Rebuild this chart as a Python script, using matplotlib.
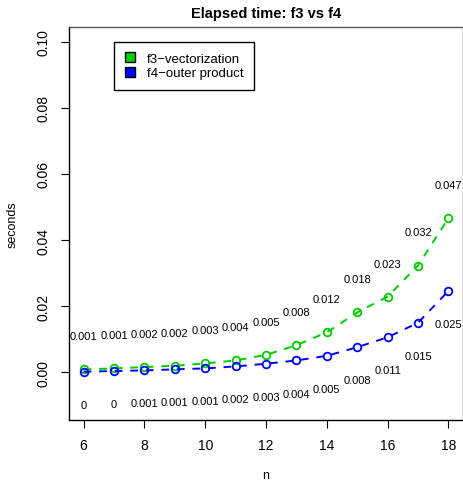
import matplotlib
matplotlib.use("Agg")
import matplotlib.pyplot as plt
from matplotlib.patches import Patch

plt.rcParams['font.family'] = ['Liberation Sans', 'DejaVu Sans']

n = list(range(6, 19))
f3 = [0.0009, 0.0012, 0.0016, 0.0020, 0.0027, 0.0036, 0.0053, 0.0082,
      0.0121, 0.0181, 0.0229, 0.0323, 0.0466]
f4 = [0.0002, 0.0004, 0.0006, 0.0009, 0.0012, 0.0018, 0.0026, 0.0036,
      0.0050, 0.0076, 0.0106, 0.0150, 0.0246]
series_names = ["f3\u2212vectorization", "f4\u2212outer product"]
colors = ["#00CD00", "#0000FF"]


def fmt(v):
    r = round(v, 3)
    return "0" if r == 0 else f"{r:g}"


fig = plt.figure(figsize=(4.64, 4.85), dpi=100)
ax = fig.add_axes([69 / 464, 1 - 421 / 485, (463 - 69) / 464, (421 - 28) / 485])

for vals, c in zip([f3, f4], colors):
    ax.plot(n, vals, color=c, linestyle=(0, (4, 4)), linewidth=1.4,
            marker="o", markersize=5.5, markerfacecolor="none",
            markeredgecolor=c, markeredgewidth=1.3)

for x, v in zip(n, f3):
    ax.text(x, v + 0.01, fmt(v), ha="center", va="center", fontsize=8)
for x, v in zip(n, f4):
    ax.text(x, v - 0.01, fmt(v), ha="center", va="center", fontsize=8)

ax.set_xlim(5.52, 18.48)
ax.set_ylim(-0.0144, 0.1044)
ax.set_xticks(range(6, 19, 2))
ax.set_yticks([0, 0.02, 0.04, 0.06, 0.08, 0.10])
ax.set_yticklabels(["0.00", "0.02", "0.04", "0.06", "0.08", "0.10"],
                   rotation=90, va="center")
ax.tick_params(length=6, labelsize=10, pad=7)
for s in ax.spines.values():
    s.set_linewidth(1.0)
ax.spines["top"].set_color("#555555")
ax.spines["right"].set_color("#555555")

ax.set_title("Elapsed time: f3 vs f4", fontsize=10.5, fontweight="bold", pad=7)
ax.set_xlabel("n", fontsize=9, labelpad=12)
ax.set_ylabel("seconds", fontsize=9, labelpad=13)

handles = [Patch(facecolor=c, edgecolor="black", label=l)
           for c, l in zip(colors, series_names)]
ax.legend(handles=handles, loc="upper left", bbox_to_anchor=(0.115, 0.963),
          fontsize=9.5, fancybox=False, edgecolor="black", framealpha=1,
          handlelength=0.8, handleheight=0.8, borderpad=0.8,
          labelspacing=0.15, handletextpad=0.9, borderaxespad=0)

fig.savefig("out.png", dpi=100)
